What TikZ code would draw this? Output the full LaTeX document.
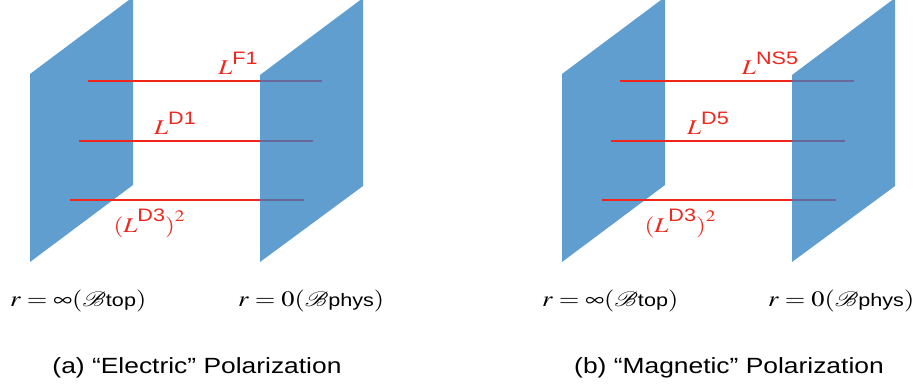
\documentclass[tikz,border=0pt]{standalone}
\usepackage{mathptmx}
\usepackage{mathrsfs}
\usepackage{graphicx}
\usepackage[no-math]{fontspec}
\setmainfont{Liberation Sans}
\definecolor{plateblue}{RGB}{95,158,207}
\definecolor{stringred}{RGB}{240,38,28}
\definecolor{stringhid}{RGB}{104,104,154}
\newcommand{\wide}[1]{\scalebox{1.2}[1]{#1}}
\newcommand{\Lop}[1]{$L$\raisebox{10pt}{\fontsize{18}{18}\selectfont #1}}
\newcommand{\Lsq}[1]{$($$L$\raisebox{11pt}{\fontsize{18}{18}\selectfont #1}$)$\raisebox{11pt}{\fontsize{16}{16}\selectfont$2$}}
\newcommand{\subtxt}[1]{{\fontsize{18}{18}\selectfont #1}}
\tikzset{
  plate/.style   ={fill=plateblue, draw=none},
  strline/.style ={draw=stringred, line width=2pt},
  strhid/.style  ={draw=stringhid, line width=2pt},
  lbl/.style     ={inner sep=0pt, anchor=base},
  oplbl/.style   ={lbl, text=stringred, font=\fontsize{21}{21}\selectfont},
  rlbl/.style    ={lbl, anchor=base west, font=\fontsize{22}{22}\selectfont},
  caplbl/.style  ={lbl, font=\fontsize{22}{26}\selectfont},
}
\begin{document}
\begin{tikzpicture}[x=1pt, y=-1pt]
\useasboundingbox (0,0) rectangle (921,390);
\clip (0,0) rectangle (921,390);

% (a) electric polarization
\begin{scope}
\fill[plate] (30,262) -- (30,74) -- (133,-3) -- (133,185) -- cycle;
\draw[strline] (88,81) -- (322,81);
\draw[strline] (79,141) -- (313,141);
\draw[strline] (70,200) -- (304,200);
\fill[plate] (260,262) -- (260,75) -- (363,-2) -- (363,186) -- cycle;
\draw[strhid] (260,81) -- (322,81);
\draw[strhid] (260,141) -- (313,141);
\draw[strhid] (260,200) -- (304,200);

\node[oplbl] (Fone)   at (238,75)  {\wide{\Lop{F1}}};
\node[oplbl] (Done)   at (175,135) {\wide{\Lop{D1}}};
\node[oplbl] (Dthree) at (149,233) {\wide{\Lsq{D3}}};

\node[rlbl] (rinf)  at (10,306)  {\wide{$r=\infty(\mathscr{B}$\subtxt{top}$)$}};
\node[rlbl] (rzero) at (238,306) {\wide{$r=0(\mathscr{B}$\subtxt{phys}$)$}};
\node[caplbl] (capa) at (197,373) {\wide{(a) “Electric” Polarization}};
\end{scope}

% (b) magnetic polarization
\begin{scope}[xshift=532]
\fill[plate] (30,262) -- (30,74) -- (133,-3) -- (133,185) -- cycle;
\draw[strline] (88,81) -- (322,81);
\draw[strline] (79,141) -- (313,141);
\draw[strline] (70,200) -- (304,200);
\fill[plate] (260,262) -- (260,75) -- (363,-2) -- (363,186) -- cycle;
\draw[strhid] (260,81) -- (322,81);
\draw[strhid] (260,141) -- (313,141);
\draw[strhid] (260,200) -- (304,200);

\node[oplbl] (NSfive)  at (238,75)  {\wide{\Lop{NS5}}};
\node[oplbl] (Dfive)   at (176,135) {\wide{\Lop{D5}}};
\node[oplbl] (Dthreeb) at (148,233) {\wide{\Lsq{D3}}};

\node[rlbl] (rinfb)  at (10,306)  {\wide{$r=\infty(\mathscr{B}$\subtxt{top}$)$}};
\node[rlbl] (rzerob) at (236,306) {\wide{$r=0(\mathscr{B}$\subtxt{phys}$)$}};
\node[caplbl] (capb) at (197,373) {\wide{(b) “Magnetic” Polarization}};
\end{scope}
\end{tikzpicture}
\end{document}
